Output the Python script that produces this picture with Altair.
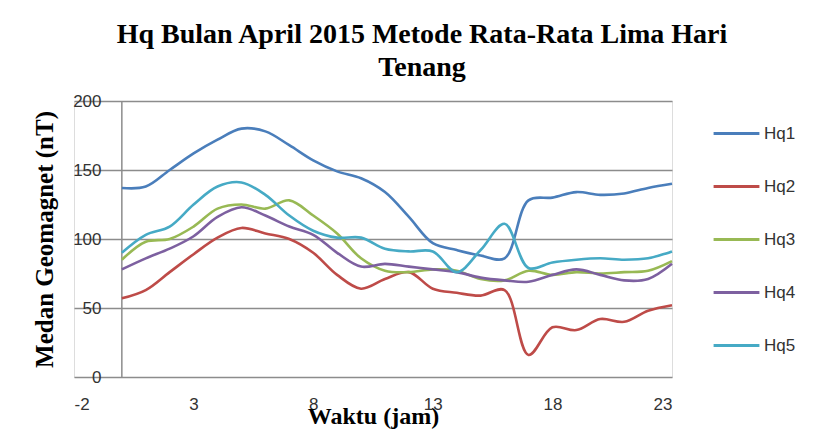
import altair as alt
import pandas as pd

hours = list(range(24))
hq1 = [137, 138, 150, 162, 172, 180, 178, 168, 157, 149, 144, 134, 116, 97, 92, 88, 86, 128, 130, 134, 132, 133, 137, 140]
hq2 = [57, 63, 76, 89, 101, 108, 104, 100, 90, 74, 64, 71, 76, 64, 61, 59, 63, 16, 36, 34, 42, 40, 48, 52]
hq3 = [85, 98, 100, 109, 122, 125, 122, 128, 117, 104, 86, 77, 76, 78, 77, 71, 70, 77, 74, 76, 75, 76, 77, 84]
hq4 = [78, 86, 93, 102, 116, 123, 117, 109, 103, 90, 80, 82, 80, 78, 76, 72, 70, 69, 74, 78, 74, 70, 71, 82]
hq5 = [90, 103, 109, 125, 138, 141, 132, 117, 106, 101, 101, 93, 91, 91, 76, 92, 111, 79, 83, 85, 86, 85, 86, 91]

series_names = ["Hq1", "Hq2", "Hq3", "Hq4", "Hq5"]
series_colors = ["#4A7EBB", "#BE4B48", "#98B954", "#7D60A0", "#46AAC5"]
x_ticks = [-2, 3, 8, 13, 18, 23]
y_ticks = [0, 50, 100, 150, 200]

rows = []
for name, vals in zip(series_names, [hq1, hq2, hq3, hq4, hq5]):
    for h, v in zip(hours, vals):
        rows.append({"jam": h, "nilai": v, "seri": name})
df = pd.DataFrame(rows)

x_scale = alt.Scale(domain=[-2, 23], nice=False, zero=False)
y_scale = alt.Scale(domain=[0, 200], nice=False)

lines = alt.Chart(df).mark_line(interpolate="catmull-rom", strokeWidth=2.6).encode(
    x=alt.X("jam:Q", scale=x_scale,
            axis=alt.Axis(values=x_ticks, title="Waktu  (jam)", grid=False, domain=False, ticks=False,
                          labelExpr="datum.value + ''",
                          labelPadding=19, labelFontSize=17, labelFont="Liberation Sans", labelColor="#333333",
                          titleFont="Liberation Serif", titleFontSize=24, titleFontWeight="bold",
                          titleColor="#000000", titleBaseline="alphabetic", titleY=46)),
    y=alt.Y("nilai:Q", scale=y_scale,
            axis=alt.Axis(values=y_ticks, title="Medan  Geomagnet (nT)", grid=True, gridColor="#8c8c8c",
                          gridWidth=1.5, domain=False, ticks=False, labelPadding=-27, labelFontSize=17,
                          labelFont="Liberation Sans", labelColor="#333333",
                          titleFont="Liberation Serif", titleFontSize=25, titleFontWeight="bold",
                          titleColor="#000000", titleBaseline="alphabetic", titleX=-22)),
    color=alt.Color("seri:N", scale=alt.Scale(domain=series_names, range=series_colors),
                    legend=alt.Legend(title=None, orient="none", legendX=638, legendY=8,
                                      symbolType="stroke", symbolSize=2100, symbolStrokeWidth=3,
                                      labelFontSize=17, labelFont="Liberation Sans", labelColor="#333333",
                                      rowPadding=20, labelOffset=3)),
)

axis_line = alt.Chart(pd.DataFrame({"x0": [0]})).mark_rule(color="#8c8c8c", strokeWidth=1.5).encode(
    x=alt.X("x0:Q", scale=x_scale)
)

chart = alt.layer(axis_line, lines).properties(
    width=598,
    height=276,
    autosize=alt.AutoSizeParams(type="none"),
    padding={"left": 66, "top": 93, "right": 139, "bottom": 53},
    title=alt.Title(
        text=["Hq Bulan April 2015 Metode Rata-Rata Lima Hari", "Tenang"],
        font="Liberation Serif", fontSize=28, fontWeight="bold", color="#000000",
        anchor="middle", dx=49, offset=10, lineHeight=33,
    ),
).configure_view(stroke=None).configure(background="#ffffff")

chart.save("out.html", embed_options={"renderer": "svg", "actions": False})
